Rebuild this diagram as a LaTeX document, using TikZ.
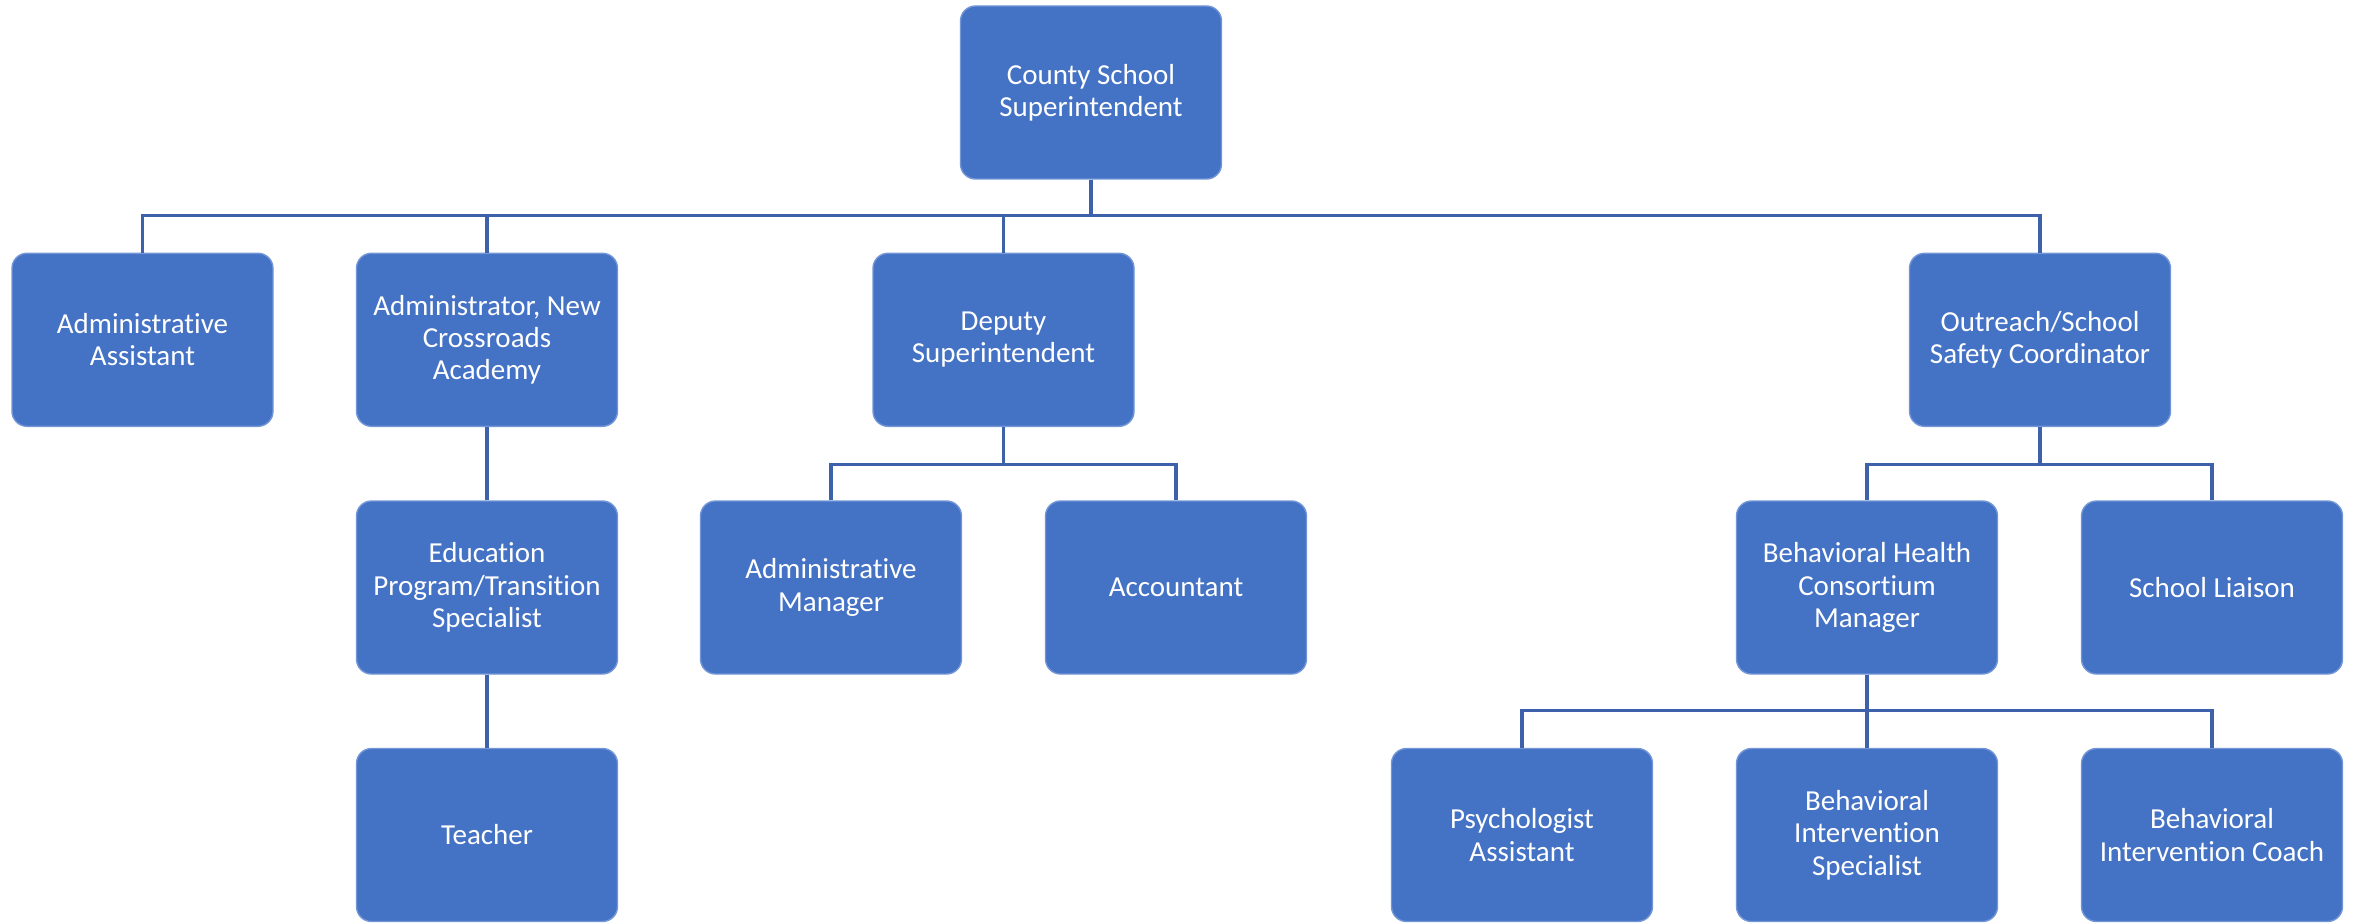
\documentclass[tikz,border=0pt]{standalone}
\usepackage{fontspec}
\setmainfont[Ligatures=NoCommon]{Carlito}

\definecolor{boxblue}{HTML}{4472C4}
\definecolor{boxedge}{HTML}{7396D6}
\definecolor{linkblue}{HTML}{3D62AB}

\begin{document}
\begin{tikzpicture}[
  post/.style={rectangle, rounded corners=0.15cm, fill=boxblue, draw=boxedge,
    line width=0.4pt, minimum width=2.61cm, minimum height=1.73cm,
    inner sep=0pt, text=white, align=center,
    font=\fontsize{8.25}{9.2}\selectfont},
  link/.style={draw=linkblue, line width=0.9pt}
]

\useasboundingbox (0,0) rectangle (23.53,9.23);

% Top of the chart
\node[post] (sup) at (10.91,8.305) {County School\\Superintendent};

% First row
\node[post] (aa)  at (1.425,5.832)  {Administrative\\Assistant};
\node[post] (nca) at (4.87,5.832)   {Administrator, New\\Crossroads\\Academy};
\node[post] (dep) at (10.035,5.832) {Deputy\\Superintendent};
\node[post] (out) at (20.4,5.832)   {Outreach/School\\Safety Coordinator};

% Second row
\node[post] (edu) at (4.87,3.355)  {Education\\Program/Transition\\Specialist};
\node[post] (am)  at (8.31,3.355)  {Administrative\\Manager};
\node[post] (acc) at (11.76,3.355) {Accountant};
\node[post] (bhc) at (18.67,3.355) {Behavioral Health\\Consortium\\Manager};
\node[post] (sl)  at (22.12,3.355) {School Liaison};

% Third row
\node[post] (tea) at (4.87,0.88)  {Teacher};
\node[post] (psy) at (15.22,0.88) {Psychologist\\Assistant};
\node[post] (bis) at (18.67,0.88) {Behavioral\\Intervention\\Specialist};
\node[post] (bic) at (22.12,0.88) {Behavioral\\Intervention Coach};

% Lines from the superintendent
\draw[link] (sup.south) -- ++(0,-0.356) -| (aa.north);
\draw[link] (sup.south) -- ++(0,-0.356) -| (nca.north);
\draw[link] (sup.south) -- ++(0,-0.356) -| (dep.north);
\draw[link] (sup.south) -- ++(0,-0.356) -| (out.north);

% New Crossroads Academy branch
\draw[link] (nca.south) -- (edu.north);
\draw[link] (edu.south) -- (tea.north);

% Deputy branch
\draw[link] (dep.south) -- ++(0,-0.377) -| (am.north);
\draw[link] (dep.south) -- ++(0,-0.377) -| (acc.north);

% Outreach branch
\draw[link] (out.south) -- ++(0,-0.377) -| (bhc.north);
\draw[link] (out.south) -- ++(0,-0.377) -| (sl.north);

% Behavioral health branch
\draw[link] (bhc.south) -- ++(0,-0.36) -| (psy.north);
\draw[link] (bhc.south) -- (bis.north);
\draw[link] (bhc.south) -- ++(0,-0.36) -| (bic.north);

\end{tikzpicture}
\end{document}
